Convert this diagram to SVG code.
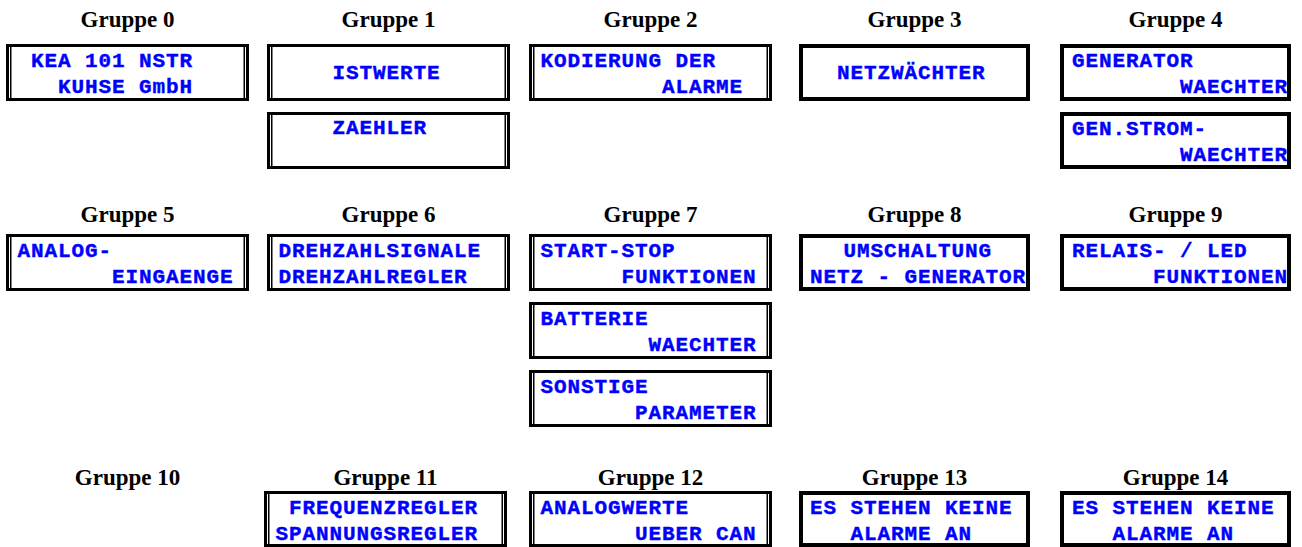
<svg xmlns="http://www.w3.org/2000/svg" width="1302" height="547" viewBox="0 0 1302 547">
<style>
.t{font-family:"Liberation Serif","Times New Roman",serif;font-weight:bold;font-size:23px;fill:#000;text-anchor:middle}
.l{font-family:"Liberation Mono","Courier New",monospace;font-weight:bold;font-size:21px;letter-spacing:0.9px;fill:#0000ff;stroke:#0000ff;stroke-width:0.4px}
.ob{fill:#fff;stroke:#000;stroke-width:3}
.ib{stroke:#000;stroke-width:1.5}
.sb{fill:#fff;stroke:#000;stroke-width:4}
</style>
<rect width="1302" height="547" fill="#fff"/>
<g id="titles">
<text class="t" x="127.5" y="27">Gruppe 0</text>
<text class="t" x="388.5" y="27">Gruppe 1</text>
<text class="t" x="650.5" y="27">Gruppe 2</text>
<text class="t" x="914.5" y="27">Gruppe 3</text>
<text class="t" x="1175.5" y="27">Gruppe 4</text>
<text class="t" x="127.5" y="222">Gruppe 5</text>
<text class="t" x="388.5" y="222">Gruppe 6</text>
<text class="t" x="650.5" y="222">Gruppe 7</text>
<text class="t" x="914.5" y="222">Gruppe 8</text>
<text class="t" x="1175.5" y="222">Gruppe 9</text>
<text class="t" x="127.5" y="485">Gruppe 10</text>
<text class="t" x="385.5" y="485">Gruppe 11</text>
<text class="t" x="650.5" y="485">Gruppe 12</text>
<text class="t" x="914.5" y="485">Gruppe 13</text>
<text class="t" x="1175.5" y="485">Gruppe 14</text>
</g>
<g id="connectors"></g>
<!-- Row 1 -->
<g id="g0">
<rect class="ob" x="7.5" y="45.5" width="240" height="54"/>
<line class="ib" x1="10.75" y1="47" x2="10.75" y2="98"/><line class="ib" x1="244.25" y1="47" x2="244.25" y2="98"/>
<text class="l" x="31" y="67">KEA 101 NSTR</text>
<text class="l" x="58" y="93">KUHSE GmbH</text>
</g>
<g id="g1a">
<rect class="ob" x="268.5" y="45.5" width="240" height="54"/>
<line class="ib" x1="271.75" y1="47" x2="271.75" y2="98"/><line class="ib" x1="505.25" y1="47" x2="505.25" y2="98"/>
<text class="l" x="332.5" y="79">ISTWERTE</text>
</g>
<g id="g1b">
<rect class="ob" x="268.5" y="113.5" width="240" height="54"/>
<line class="ib" x1="271.75" y1="115" x2="271.75" y2="166"/><line class="ib" x1="505.25" y1="115" x2="505.25" y2="166"/>
<text class="l" x="332.5" y="134">ZAEHLER</text>
</g>
<g id="g2">
<rect class="ob" x="530.5" y="45.5" width="240" height="54"/>
<line class="ib" x1="533.75" y1="47" x2="533.75" y2="98"/><line class="ib" x1="767.25" y1="47" x2="767.25" y2="98"/>
<text class="l" x="540.5" y="67">KODIERUNG DER</text>
<text class="l" x="662" y="93">ALARME</text>
</g>
<g id="g3">
<rect class="sb" x="801" y="46" width="227" height="53"/>
<text class="l" x="837" y="79">NETZWÄCHTER</text>
</g>
<g id="g4a">
<rect class="sb" x="1062" y="46" width="227" height="53"/>
<text class="l" x="1072" y="67">GENERATOR</text>
<text class="l" x="1180" y="93">WAECHTER</text>
</g>
<g id="g4b">
<rect class="sb" x="1062" y="114" width="227" height="53"/>
<text class="l" x="1072" y="135">GEN.STROM-</text>
<text class="l" x="1180" y="161">WAECHTER</text>
</g>
<!-- Row 2 -->
<g id="g5">
<rect class="ob" x="7.5" y="235.5" width="240" height="54"/>
<line class="ib" x1="10.75" y1="237" x2="10.75" y2="288"/><line class="ib" x1="244.25" y1="237" x2="244.25" y2="288"/>
<text class="l" x="17.5" y="257">ANALOG-</text>
<text class="l" x="112" y="283">EINGAENGE</text>
</g>
<g id="g6">
<rect class="ob" x="268.5" y="235.5" width="240" height="54"/>
<line class="ib" x1="271.75" y1="237" x2="271.75" y2="288"/><line class="ib" x1="505.25" y1="237" x2="505.25" y2="288"/>
<text class="l" x="278.5" y="257">DREHZAHLSIGNALE</text>
<text class="l" x="278.5" y="283">DREHZAHLREGLER</text>
</g>
<g id="g7a">
<rect class="ob" x="530.5" y="235.5" width="240" height="54"/>
<line class="ib" x1="533.75" y1="237" x2="533.75" y2="288"/><line class="ib" x1="767.25" y1="237" x2="767.25" y2="288"/>
<text class="l" x="540.5" y="257">START-STOP</text>
<text class="l" x="621.5" y="283">FUNKTIONEN</text>
</g>
<g id="g7b">
<rect class="ob" x="530.5" y="303.5" width="240" height="54"/>
<line class="ib" x1="533.75" y1="305" x2="533.75" y2="356"/><line class="ib" x1="767.25" y1="305" x2="767.25" y2="356"/>
<text class="l" x="540.5" y="325">BATTERIE</text>
<text class="l" x="648.5" y="351">WAECHTER</text>
</g>
<g id="g7c">
<rect class="ob" x="530.5" y="371.5" width="240" height="54"/>
<line class="ib" x1="533.75" y1="373" x2="533.75" y2="424"/><line class="ib" x1="767.25" y1="373" x2="767.25" y2="424"/>
<text class="l" x="540.5" y="393">SONSTIGE</text>
<text class="l" x="635" y="419">PARAMETER</text>
</g>
<g id="g8">
<rect class="sb" x="801" y="236" width="227" height="53"/>
<text class="l" x="843.5" y="257">UMSCHALTUNG</text>
<text class="l" x="810" y="283">NETZ - GENERATOR</text>
</g>
<g id="g9">
<rect class="sb" x="1062" y="236" width="227" height="53"/>
<text class="l" x="1072" y="257">RELAIS- / LED</text>
<text class="l" x="1153" y="283">FUNKTIONEN</text>
</g>
<!-- Row 3 -->
<g id="g11">
<rect class="ob" x="265.5" y="492.5" width="240" height="53"/>
<line class="ib" x1="268.75" y1="494" x2="268.75" y2="544"/><line class="ib" x1="502.25" y1="494" x2="502.25" y2="544"/>
<text class="l" x="289" y="514">FREQUENZREGLER</text>
<text class="l" x="275.5" y="540">SPANNUNGSREGLER</text>
</g>
<g id="g12">
<rect class="ob" x="530.5" y="492.5" width="240" height="53"/>
<line class="ib" x1="533.75" y1="494" x2="533.75" y2="544"/><line class="ib" x1="767.25" y1="494" x2="767.25" y2="544"/>
<text class="l" x="540.5" y="514">ANALOGWERTE</text>
<text class="l" x="635" y="540">UEBER CAN</text>
</g>
<g id="g13">
<rect class="sb" x="801" y="493" width="227" height="52"/>
<text class="l" x="810" y="514">ES STEHEN KEINE</text>
<text class="l" x="850.5" y="540">ALARME AN</text>
</g>
<g id="g14">
<rect class="sb" x="1062" y="493" width="227" height="52"/>
<text class="l" x="1072" y="514">ES STEHEN KEINE</text>
<text class="l" x="1112.5" y="540">ALARME AN</text>
</g>
</svg>
